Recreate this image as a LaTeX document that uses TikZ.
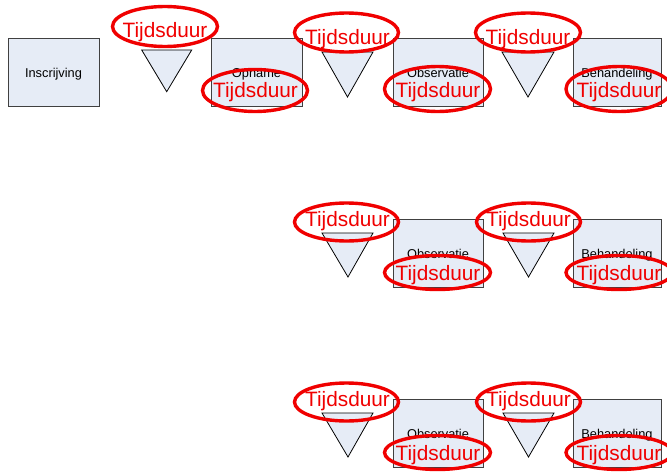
\documentclass[tikz,border=0pt]{standalone}
\usepackage{fontspec}
\setmainfont{Liberation Sans}
\usetikzlibrary{shapes.geometric}
\definecolor{boxfill}{HTML}{E6ECF6}
\definecolor{boxline}{HTML}{404040}
\definecolor{redmark}{HTML}{F00000}
\tikzset{
  stagebox/.style={draw=boxline, line width=0.9pt, fill=boxfill},
  stagelbl/.style={font=\fontsize{12.8}{14}\selectfont, inner sep=0pt, text=black, anchor=base},
  waittri/.style={draw=black, line width=0.8pt, fill=boxfill, line join=miter},
  markell/.style={draw=redmark, line width=3.4pt},
  marktxt/.style={font=\fontsize{20.8}{24}\selectfont, text=redmark, inner sep=0pt, anchor=base},
}
\begin{document}
\begin{tikzpicture}[x=1pt,y=-1pt]
\useasboundingbox (0,0) rectangle (667,474);
\clip (0,0) rectangle (667,474);

% ---------- Row 1 ----------
\draw[stagebox] (8,38) rectangle (99,106);
\node[stagelbl] (insc) at (53.5,77.3) {Inscrijving};

\draw[waittri] (141.7,50) -- (191.7,50) -- (166.7,91.7) -- cycle;

\draw[stagebox] (211,38) rectangle (302,106);
\node[stagelbl] (opn) at (256.5,77.3) {Opname};

\draw[waittri] (322,52) -- (373,52) -- (347.5,97) -- cycle;

\draw[stagebox] (393,38) rectangle (483,106);
\node[stagelbl] (obs1) at (438,77.3) {Observatie};

\draw[waittri] (502,52) -- (554,52) -- (528,97) -- cycle;

\draw[stagebox] (573,38) rectangle (661,106);
\node[stagelbl] (beh1) at (617,77.3) {Behandeling};

% red marks row 1
\draw[markell] (165,26.5) ellipse [x radius=52.5, y radius=20];
\node[marktxt] (t1a) at (165,37) {Tijdsduur};
\draw[markell] (346.5,32.5) ellipse [x radius=52, y radius=19.5];
\node[marktxt] (t1b) at (347.5,44) {Tijdsduur};
\draw[markell] (528,32.5) ellipse [x radius=52.5, y radius=19.5];
\node[marktxt] (t1c) at (528,44) {Tijdsduur};
\draw[markell] (255,90.5) ellipse [x radius=52.5, y radius=21];
\node[marktxt] (b1a) at (255.5,97.5) {Tijdsduur};
\draw[markell] (437.5,89) ellipse [x radius=53, y radius=22.5];
\node[marktxt] (b1b) at (438,97.7) {Tijdsduur};
\draw[markell] (619,89) ellipse [x radius=53, y radius=22.5];
\node[marktxt] (b1c) at (619,97.7) {Tijdsduur};

% ---------- Rows 2 and 3 ----------
\foreach \dy/\r in {0/two,180/three}{
  \begin{scope}[yshift=-\dy pt]
    \draw[waittri] (322,233) -- (373,233) -- (348,277) -- cycle;
    \draw[stagebox] (393,219) rectangle (483,287);
    \node[stagelbl] (obs\r) at (438,258.3) {Observatie};
    \draw[waittri] (503,233) -- (554,233) -- (528.5,277) -- cycle;
    \draw[stagebox] (573,219) rectangle (661,287);
    \node[stagelbl] (beh\r) at (617,258.3) {Behandeling};

    \draw[markell] (346.5,222) ellipse [x radius=52, y radius=19];
    \node[marktxt] (ta\r) at (347.5,226.7) {Tijdsduur};
    \draw[markell] (528.5,222) ellipse [x radius=52, y radius=19];
    \node[marktxt] (tb\r) at (528.5,226.7) {Tijdsduur};
    \draw[markell] (437.5,272.5) ellipse [x radius=53, y radius=17];
    \node[marktxt] (ba\r) at (438,280) {Tijdsduur};
    \draw[markell] (619,272.5) ellipse [x radius=53, y radius=17];
    \node[marktxt] (bb\r) at (619,280) {Tijdsduur};
  \end{scope}
}
\end{tikzpicture}
\end{document}
